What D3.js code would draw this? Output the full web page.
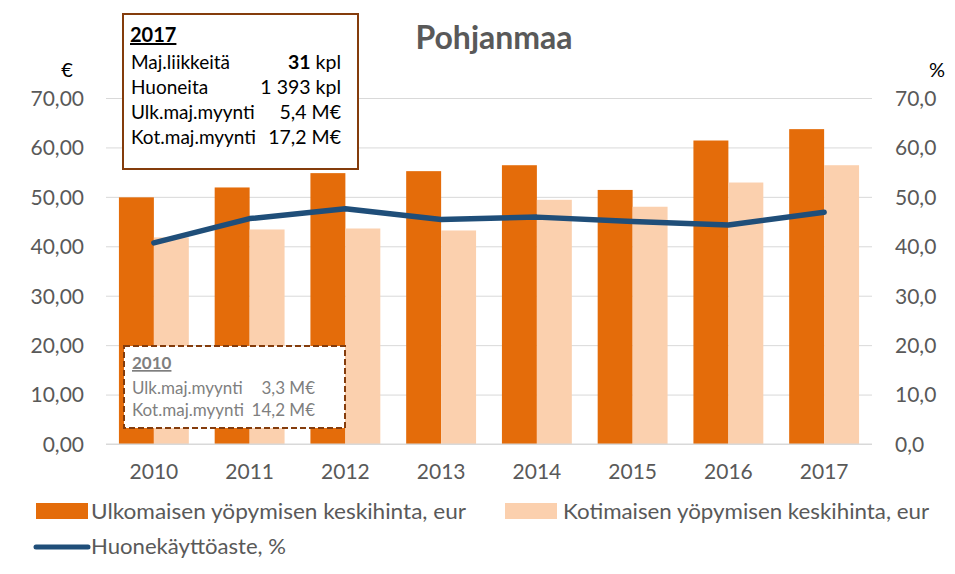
<!DOCTYPE html>
<html><head><meta charset="utf-8">
<script src="https://cdn.jsdelivr.net/npm/d3@7"></script>
<style>body{margin:0;background:#fff}svg{display:block}text{font-family:Lato,"Open Sans",sans-serif}</style>
</head><body><svg id="c" width="955" height="574"></svg>
<script>
const years = ["2010","2011","2012","2013","2014","2015","2016","2017"];
const ulkomainen = [49.9, 51.9, 54.8, 55.2, 56.4, 51.4, 61.4, 63.7];
const kotimainen = [41.8, 43.4, 43.6, 43.2, 49.4, 48.0, 52.9, 56.4];
const kayttoaste = [40.7, 45.6, 47.6, 45.4, 45.9, 45.0, 44.3, 46.9];
const leftTicks = [0,10,20,30,40,50,60,70];
const seriesNames = ["Ulkomaisen yöpymisen keskihinta, eur","Kotimaisen yöpymisen keskihinta, eur","Huonekäyttöaste, %"];
const box2017 = [["Maj.liikkeitä","31"," kpl"],["Huoneita","1 393 kpl",""],["Ulk.maj.myynti","5,4 M€",""],["Kot.maj.myynti","17,2 M€",""]];
const box2010 = [["Ulk.maj.myynti","3,3 M€"],["Kot.maj.myynti","14,2 M€"]];

const C_ORANGE="#E46C0A", C_LIGHT="#FBD0AE", C_BLUE="#1F4E79", C_TXT="#595959";
const svg = d3.select("#c");
const L=106, R=872, T=98, B=444;
const x0 = d3.scaleBand().domain(years).range([L,R]).paddingInner(0.27).paddingOuter(0.135);
const x1 = d3.scaleBand().domain(["u","k"]).range([0,x0.bandwidth()]);
const yL = d3.scaleLinear().domain([0,70]).range([B,T]);
const yR = d3.scaleLinear().domain([0,70]).range([B,T]);
const fmt2 = d=>d.toFixed(2).replace(".",",");
const fmt1 = d=>d.toFixed(1).replace(".",",");

// gridlines
const gy = svg.append("g").attr("transform",`translate(${L},0)`)
  .call(d3.axisLeft(yL).tickValues(leftTicks).tickSize(-(R-L)).tickFormat(fmt2).tickPadding(22));
gy.select(".domain").remove();
gy.selectAll("line").attr("stroke","#d9d9d9");
gy.selectAll("text").attr("fill",C_TXT).style("font-size","21px").attr("dy","0.35em");
const gr = svg.append("g").attr("transform",`translate(${R},0)`)
  .call(d3.axisRight(yR).tickValues(leftTicks).tickSize(0).tickFormat(fmt1).tickPadding(23));
gr.select(".domain").remove();
gr.selectAll("text").attr("fill",C_TXT).style("font-size","21px").attr("dy","0.35em");

// bars
svg.append("g").selectAll("rect").data(years).join("rect")
  .attr("x",d=>x0(d)+x1("u")).attr("width",x1.bandwidth())
  .attr("y",(d,i)=>yL(ulkomainen[i])).attr("height",(d,i)=>B-yL(ulkomainen[i])).attr("fill",C_ORANGE);
svg.append("g").selectAll("rect").data(years).join("rect")
  .attr("x",d=>x0(d)+x1("k")).attr("width",x1.bandwidth())
  .attr("y",(d,i)=>yL(kotimainen[i])).attr("height",(d,i)=>B-yL(kotimainen[i])).attr("fill",C_LIGHT);

// x axis
const gx = svg.append("g").attr("transform",`translate(0,${B})`)
  .call(d3.axisBottom(x0).tickSize(0).tickPadding(20));
gx.select(".domain").attr("stroke","#d9d9d9").attr("d",`M${L},0H${R}`);
gx.selectAll("text").attr("fill",C_TXT).style("font-size","21px");

// line
svg.append("path").datum(years)
  .attr("d",d3.line().x(d=>x0(d)+x0.bandwidth()/2).y((d,i)=>yR(kayttoaste[i])))
  .attr("fill","none").attr("stroke",C_BLUE).attr("stroke-width",5.5).attr("stroke-linejoin","round").attr("stroke-linecap","round");

// title & units
svg.append("text").attr("x",494).attr("y",49).attr("text-anchor","middle").attr("fill",C_TXT)
  .style("font-size","32px").style("font-weight","bold").text("Pohjanmaa");
svg.append("text").attr("x",67).attr("y",77).attr("text-anchor","middle").attr("fill","#000").style("font-size","20px").text("€");
svg.append("text").attr("x",937).attr("y",77).attr("text-anchor","middle").attr("fill","#000").style("font-size","20px").text("%");

// box 2017
const b1 = svg.append("g");
b1.append("rect").attr("x",123).attr("y",14).attr("width",235).attr("height",155).attr("fill","#fff").attr("stroke","#843C0C").attr("stroke-width",2);
b1.append("text").attr("x",130).attr("y",42).style("font-size","20px").style("font-weight","bold").style("text-decoration","underline").text("2017");
box2017.forEach((r,i)=>{
  const yy = 69+i*25;
  b1.append("text").attr("x",131).attr("y",yy).style("font-size","19px").text(r[0]);
  const t = b1.append("text").attr("x",341).attr("y",yy).attr("text-anchor","end").style("font-size","19.5px");
  if(r[2]){ t.append("tspan").style("font-weight","bold").text(r[1]); t.append("tspan").text(r[2]); }
  else t.text(r[1]);
});

// box 2010
const b2 = svg.append("g");
b2.append("rect").attr("x",124).attr("y",346).attr("width",221).attr("height",82).attr("fill","#fff").attr("stroke","#843C0C").attr("stroke-width",2).attr("stroke-dasharray","6,3");
b2.append("text").attr("x",132).attr("y",369).attr("fill","#7f7f7f").style("font-size","17px").style("font-weight","bold").style("text-decoration","underline").text("2010");
box2010.forEach((r,i)=>{
  const yy = 394+i*22;
  b2.append("text").attr("x",132).attr("y",yy).attr("fill","#7f7f7f").style("font-size","17px").text(r[0]);
  b2.append("text").attr("x",315).attr("y",yy).attr("text-anchor","end").attr("fill","#7f7f7f").style("font-size","17px").text(r[1]);
});

// legend
const lg = svg.append("g");
lg.append("rect").attr("x",36).attr("y",503).attr("width",52).attr("height",16).attr("fill",C_ORANGE);
lg.append("text").attr("x",91).attr("y",519).attr("fill",C_TXT).style("font-size","21px").attr("textLength",375).attr("lengthAdjust","spacingAndGlyphs").text(seriesNames[0]);
lg.append("rect").attr("x",505).attr("y",503).attr("width",52).attr("height",16).attr("fill",C_LIGHT);
lg.append("text").attr("x",563).attr("y",519).attr("fill",C_TXT).style("font-size","21px").attr("textLength",366).attr("lengthAdjust","spacingAndGlyphs").text(seriesNames[1]);
lg.append("line").attr("x1",36).attr("x2",88).attr("y1",547).attr("y2",547).attr("stroke",C_BLUE).attr("stroke-width",5).attr("stroke-linecap","round");
lg.append("text").attr("x",91).attr("y",554).attr("fill",C_TXT).style("font-size","21px").attr("textLength",195).attr("lengthAdjust","spacingAndGlyphs").text(seriesNames[2]);
</script></body></html>
